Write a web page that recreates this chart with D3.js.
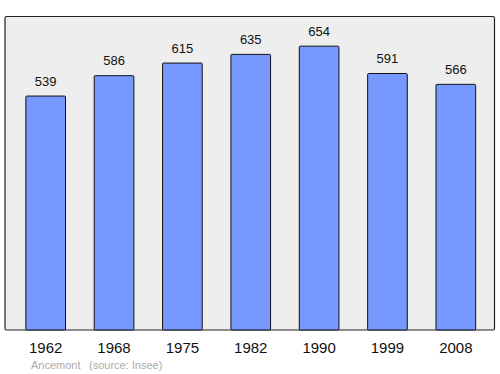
<!DOCTYPE html>
<html>
<head>
<meta charset="utf-8">
<script src="https://cdn.jsdelivr.net/npm/d3@7"></script>
<style>
  body { margin: 0; background: #fff; }
  text { font-family: "Liberation Sans", Arial, sans-serif; }
</style>
</head>
<body>
<div id="chart"></div>
<script>
// population history chart
const years = ["1962", "1968", "1975", "1982", "1990", "1999", "2008"];
const population = [539, 586, 615, 635, 654, 591, 566];
const town = "Ancemont";
const source = "(source: Insee)";

const width = 500;
const height = 374;
const frame = { left: 5, top: 16.5, right: 494.5, bottom: 330 };

const svg = d3.select("#chart")
  .append("svg")
  .attr("width", width)
  .attr("height", height);

svg.append("rect")
  .attr("x", frame.left)
  .attr("y", frame.top)
  .attr("width", frame.right - frame.left)
  .attr("height", frame.bottom - frame.top)
  .attr("rx", 1.5)
  .attr("fill", "#eeeeee")
  .attr("stroke", "#222")
  .attr("stroke-width", 1.2);

const x = d3.scaleBand()
  .domain(years)
  .range([11.5, 490])
  .paddingInner(0.42)
  .paddingOuter(0.21);

const y = d3.scaleLinear()
  .domain([0, 720])
  .range([frame.bottom, frame.bottom - 312.5]);

const data = years.map((yr, i) => ({ year: yr, value: population[i] }));

svg.append("g")
  .selectAll("rect")
  .data(data)
  .join("rect")
  .attr("x", (d) => x(d.year))
  .attr("y", (d) => y(d.value))
  .attr("width", x.bandwidth())
  .attr("height", (d) => y(0) - y(d.value))
  .attr("rx", 1)
  .attr("fill", "#7799ff")
  .attr("stroke", "#111")
  .attr("stroke-width", 1);

svg.append("g")
  .selectAll("text")
  .data(data)
  .join("text")
  .attr("x", (d) => x(d.year) + x.bandwidth() / 2)
  .attr("y", (d) => y(d.value) - 10.5)
  .attr("text-anchor", "middle")
  .attr("font-size", 13)
  .attr("fill", "#111")
  .text((d) => d.value);

svg.append("g")
  .selectAll("text")
  .data(years)
  .join("text")
  .attr("x", (d) => x(d) + x.bandwidth() / 2)
  .attr("y", 352.5)
  .attr("text-anchor", "middle")
  .attr("font-size", 15)
  .attr("fill", "#111")
  .text((d) => d);

svg.append("text")
  .attr("x", 31)
  .attr("y", 369)
  .attr("font-size", 11)
  .attr("fill", "#aaaaaa")
  .text(town);

svg.append("text")
  .attr("x", 89)
  .attr("y", 369)
  .attr("font-size", 11)
  .attr("fill", "#aaaaaa")
  .text(source);
</script>
</body>
</html>
